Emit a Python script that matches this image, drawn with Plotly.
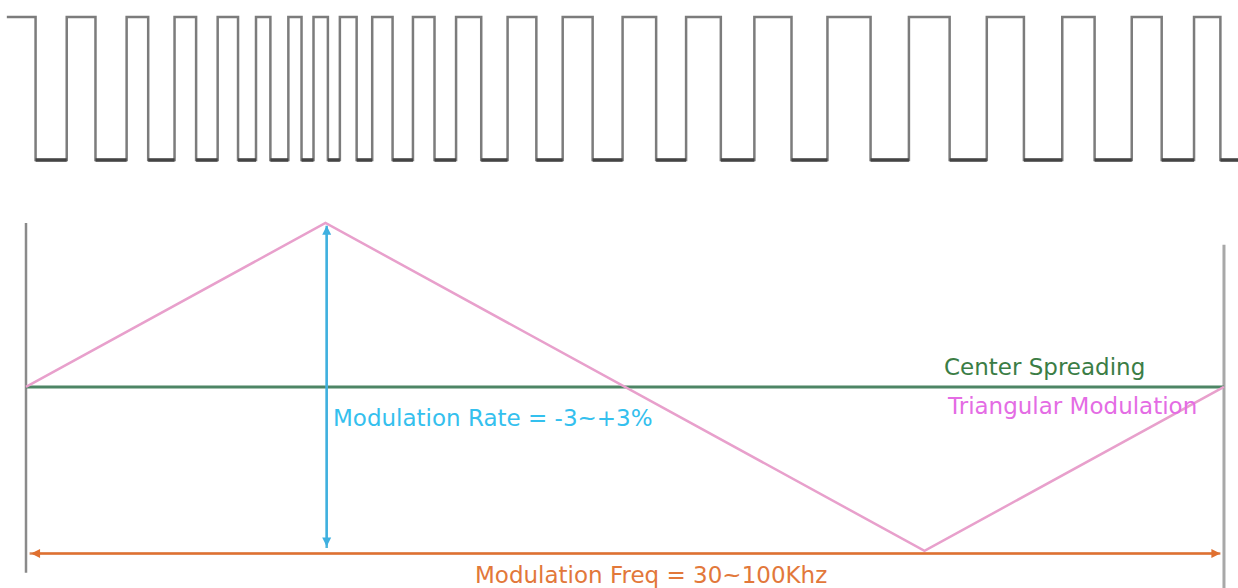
import plotly.graph_objects as go

# --- data (time in % of one modulation period, deviation in %) ---
clock_start = -1.6
clock_edges = [0.8, 3.4, 5.8, 8.4, 10.2, 12.4, 14.2, 16.0, 17.7, 19.2, 20.4, 21.9,
               23.0, 24.0, 25.2, 26.2, 27.6, 28.9, 30.6, 32.3, 34.1, 35.9, 38.0,
               40.2, 42.6, 44.8, 47.3, 49.8, 52.6, 55.1, 58.0, 60.8, 63.9, 66.9,
               70.5, 73.7, 77.1, 80.2, 83.3, 86.5, 89.2, 92.3, 94.8, 97.5, 99.7]
clock_end = 101.2

mod_t = [0, 25, 75, 100]
mod_dev = [0, 3, -3, 0]

center_t = [0, 100]
center_dev = [0, 0]

left_frame_dev = [3.0, -3.4]
right_frame_dev = [2.6, -3.8]

rate_t = 25.1
rate_dev = [2.95, -2.95]
freq_dev = -3.05
freq_t = [0.3, 99.7]

label_center = "Center Spreading"
label_tri = "Triangular Modulation"
label_rate = "Modulation Rate = -3~+3%"
label_freq = "Modulation Freq = 30~100Khz"

# --- build square wave ---
sq_x = [clock_start] + clock_edges + [clock_end]
sq_y = []
level = 1
sq_y.append(level)
for _ in clock_edges:
    level = 1 - level
    sq_y.append(level)
sq_y.append(level)

# low segments (darker)
low_x, low_y = [], []
level = 1
for i, e in enumerate(clock_edges):
    level = 1 - level
    if level == 0:
        nxt = clock_edges[i + 1] if i + 1 < len(clock_edges) else clock_end
        low_x += [e, nxt, None]
        low_y += [0, 0, None]

fig = go.Figure()
fig.add_trace(go.Scatter(x=sq_x, y=sq_y, mode="lines", line_shape="hv",
                         line=dict(color="#7c7c7c", width=2.5), yaxis="y"))
fig.add_trace(go.Scatter(x=low_x, y=low_y, mode="lines",
                         line=dict(color="#444444", width=3.5), yaxis="y"))

# frame lines
fig.add_trace(go.Scatter(x=[0, 0], y=left_frame_dev, mode="lines",
                         line=dict(color="#8a8a8a", width=2.5), yaxis="y2"))
fig.add_trace(go.Scatter(x=[100, 100], y=right_frame_dev, mode="lines",
                         line=dict(color="#a8a8a8", width=3), yaxis="y2"))
# center line
fig.add_trace(go.Scatter(x=center_t, y=center_dev, mode="lines",
                         line=dict(color="#4d8565", width=3), yaxis="y2"))
# triangular modulation
fig.add_trace(go.Scatter(x=mod_t, y=mod_dev, mode="lines",
                         line=dict(color="#e8a0cc", width=2.5), yaxis="y2"))
# cyan rate line / orange freq line (line bodies)
fig.add_trace(go.Scatter(x=[rate_t, rate_t], y=rate_dev, mode="lines",
                         line=dict(color="#4fb6dc", width=2.5), yaxis="y2"))
fig.add_trace(go.Scatter(x=freq_t, y=[freq_dev, freq_dev], mode="lines",
                         line=dict(color="#d8885a", width=2.5), yaxis="y2"))

FONT = "DejaVu Sans"
FS = 23
annotations = [
    dict(x=rate_t, y=rate_dev[0], ax=rate_t, ay=rate_dev[1], xref="x", yref="y2",
         axref="x", ayref="y2", showarrow=True, arrowhead=2, arrowside="end+start",
         arrowsize=0.9, arrowwidth=2, arrowcolor="#3fb0e0", text=""),
    dict(x=freq_t[1], y=freq_dev, ax=freq_t[0], ay=freq_dev, xref="x", yref="y2",
         axref="x", ayref="y2", showarrow=True, arrowhead=2, arrowside="end+start",
         arrowsize=0.9, arrowwidth=2, arrowcolor="#e07030", text=""),
    dict(x=76.5, y=0.37, xref="x", yref="y2", text=label_center, showarrow=False,
         xanchor="left", yanchor="middle",
         font=dict(family=FONT, size=FS, color="#3b7d45")),
    dict(x=76.7, y=-0.35, xref="x", yref="y2", text=label_tri, showarrow=False,
         xanchor="left", yanchor="middle",
         font=dict(family=FONT, size=FS, color="#e46ce4")),
    dict(x=25.5, y=-0.57, xref="x", yref="y2", text=label_rate, showarrow=False,
         xanchor="left", yanchor="middle",
         font=dict(family=FONT, size=FS, color="#34c0ee")),
    dict(x=52.2, y=-3.44, xref="x", yref="y2", text=label_freq, showarrow=False,
         xanchor="center", yanchor="middle",
         font=dict(family=FONT, size=FS, color="#e2783a")),
]

fig.update_layout(
    width=1238, height=588,
    margin=dict(l=0, r=0, t=0, b=0),
    paper_bgcolor="white", plot_bgcolor="white",
    showlegend=False,
    xaxis=dict(range=[-2.17, 101.17], visible=False, fixedrange=True),
    yaxis=dict(range=[-2.993, 1.119], visible=False, fixedrange=True),
    yaxis2=dict(range=[-3.68, 7.08], visible=False, overlaying="y", fixedrange=True),
    annotations=annotations,
)

fig.write_html("out.html", config={"displayModeBar": False},
               post_script="document.body.style.margin='0';document.body.style.overflow='hidden';")
